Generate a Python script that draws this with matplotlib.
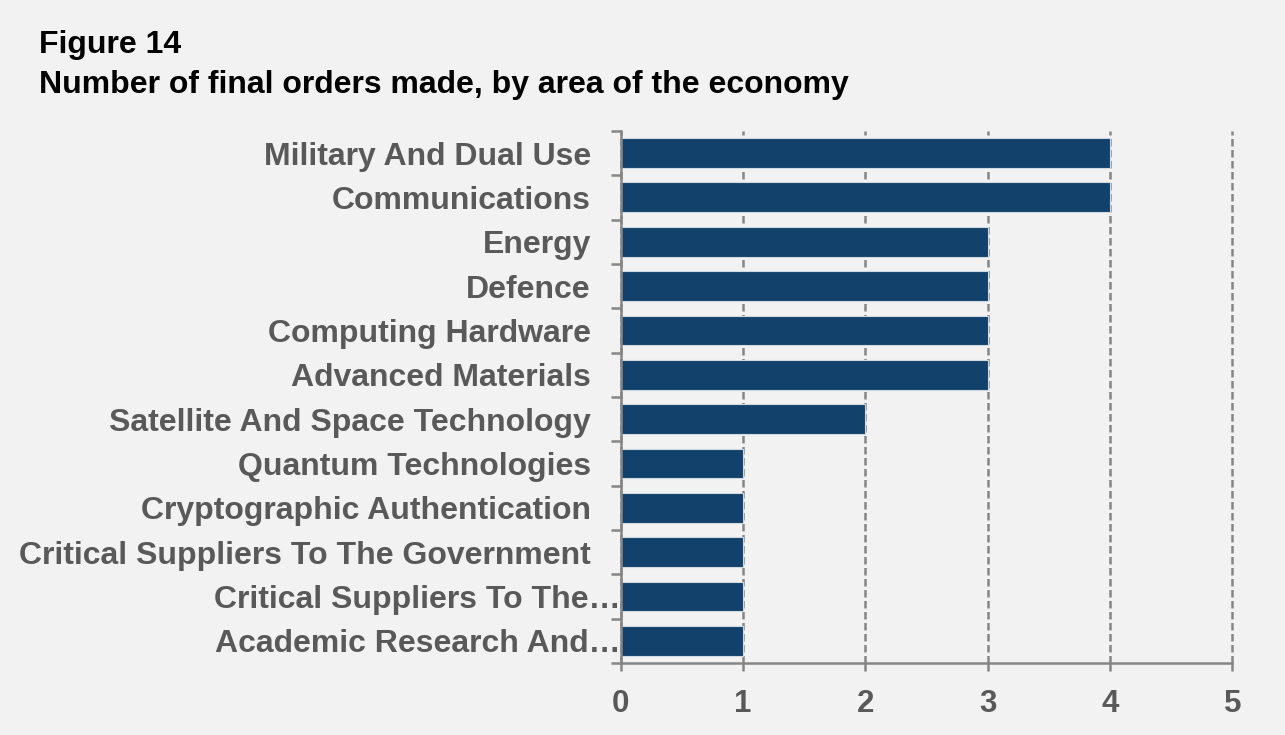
import matplotlib.pyplot as plt
import matplotlib.transforms as mtransforms

plt.rcParams['font.family'] = ['Liberation Sans', 'DejaVu Sans']

categories = [
    'Military And Dual Use',
    'Communications',
    'Energy',
    'Defence',
    'Computing Hardware',
    'Advanced Materials',
    'Satellite And Space Technology',
    'Quantum Technologies',
    'Cryptographic Authentication',
    'Critical Suppliers To The Government',
    'Critical Suppliers To The…',
    'Academic Research And…',
]
orders = [4, 4, 3, 3, 3, 3, 2, 1, 1, 1, 1, 1]
x_ticks = [0, 1, 2, 3, 4, 5]

bg = '#F2F2F2'
bar_color = '#12416B'
grey_text = '#595959'
axis_grey = '#868686'

fig = plt.figure(figsize=(12.85, 7.35), dpi=100, facecolor=bg)
ax = fig.add_axes([0.483, 0.098, 0.476, 0.724], facecolor=bg)

pos = list(range(len(categories)))[::-1]
ax.barh(pos, orders, height=0.67, color=bar_color, edgecolor='#D0D8E0',
        linewidth=0.8, zorder=3)

ax.set_xlim(0, 5)
ax.set_ylim(-0.5, len(categories) - 0.5)

ax.set_xticks(x_ticks)
ax.set_xticklabels([str(t) for t in x_ticks], fontsize=22.5, fontweight='bold',
                   color=grey_text)
ax.tick_params(axis='x', length=6, width=1.8, color=axis_grey, pad=13)

# category labels between boundary ticks
ax.set_yticks(pos)
ax.set_yticklabels(categories, fontsize=23, fontweight='bold', color=grey_text)
ax.tick_params(axis='y', which='major', length=0, pad=21.5)
ax.set_yticks([p - 0.5 for p in range(len(categories) + 1)], minor=True)
ax.tick_params(axis='y', which='minor', length=7, width=1.8, color=axis_grey)

for lbl in ax.get_yticklabels():
    if lbl.get_text().endswith('…'):
        lbl.set_transform(lbl.get_transform() +
                          mtransforms.ScaledTranslation(30 / 100, 0, fig.dpi_scale_trans))

ax.grid(axis='x', linestyle=(0, (3, 1.4)), color=axis_grey, linewidth=1.8, zorder=1)
for gl in ax.get_xgridlines():
    gl.set_clip_on(False)
for s in ['top', 'right']:
    ax.spines[s].set_visible(False)
ax.spines['left'].set_color(axis_grey)
ax.spines['left'].set_linewidth(1.8)
ax.spines['left'].set_zorder(4)
ax.spines['bottom'].set_color(axis_grey)
ax.spines['bottom'].set_linewidth(1.8)

fig.text(0.030, 1 - 53 / 735, 'Figure 14', fontsize=23, fontweight='bold',
         color='black', va='baseline', ha='left')
fig.text(0.030, 1 - 93 / 735, 'Number of final orders made, by area of the economy',
         fontsize=23, fontweight='bold', color='black', va='baseline', ha='left')

fig.savefig('out.png', dpi=100, facecolor=bg)
